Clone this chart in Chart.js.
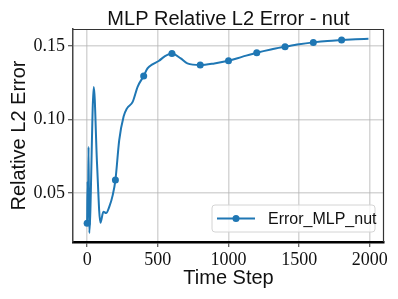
<!DOCTYPE html>
<html>
<head>
<meta charset="utf-8">
<script src="https://cdn.jsdelivr.net/npm/chart.js@4/dist/chart.umd.min.js"></script>
<style>
html,body{margin:0;padding:0;background:#fff;overflow:hidden;}
canvas{display:block;}
</style>
</head>
<body>
<canvas id="c" width="398" height="299"></canvas>
<script>
// ---- data ----
const titleText = 'MLP Relative L2 Error - nut';
const seriesLabel = 'Error_MLP_nut';
const xAxisLabel = 'Time Step';
const yAxisLabel = 'Relative L2 Error';
const steps = [0, 3, 6, 10, 15, 47, 70, 94, 115, 134, 157, 181, 200, 227, 258, 282, 322, 357, 400, 427, 462, 509, 544, 600, 662, 709, 800, 900, 1000, 1100, 1200, 1300, 1400, 1500, 1600, 1700, 1800, 1900, 1990];
const errors = [0.0294, 0.058, 0.036, 0.0815, 0.0228, 0.1222, 0.070, 0.0298, 0.0373, 0.0364, 0.0407, 0.0486, 0.0588, 0.086, 0.102, 0.1076, 0.112, 0.1223, 0.1296, 0.1348, 0.1375, 0.140, 0.1427, 0.145, 0.1416, 0.1382, 0.1371, 0.1382, 0.140, 0.1428, 0.1455, 0.1477, 0.1495, 0.1512, 0.1525, 0.1535, 0.1541, 0.1546, 0.155];
const markerSteps = [0, 200, 400, 600, 800, 1000, 1200, 1400, 1600, 1800];
const xTicks = [0, 500, 1000, 1500, 2000];
const xTickLabels = ['0', '500', '1000', '1500', '2000'];
const yTicks = [0.05, 0.10, 0.15];
const yTickLabels = ['0.05', '0.10', '0.15'];
const xRange = [-100, 2100];
const yRange = [0.0167, 0.1616];

const lineColor = '#1f77b4';
const sansFont = '"Liberation Sans", Arial, sans-serif';
const serifFont = '"Liberation Serif", "Times New Roman", serif';

const points = steps.map((s, i) => ({x: s, y: errors[i]}));

const decorPlugin = {
  id: 'decor',
  afterDraw(chart) {
    const ctx = chart.ctx;
    const a = chart.chartArea;
    ctx.save();
    // top and right spines
    ctx.strokeStyle = '#333';
    ctx.lineWidth = 1.2;
    ctx.beginPath();
    ctx.moveTo(a.left, a.top + 0.5);
    ctx.lineTo(a.right, a.top + 0.5);
    ctx.moveTo(a.right - 0.5, a.top);
    ctx.lineTo(a.right - 0.5, a.bottom);
    ctx.stroke();
    // title
    ctx.fillStyle = '#111';
    ctx.font = '20px ' + sansFont;
    ctx.textAlign = 'center';
    ctx.textBaseline = 'alphabetic';
    ctx.fillText(titleText, (a.left + a.right) / 2, 25);
    // legend
    const bx = a.right - 172, by = a.bottom - 37, bw = 163, bh = 27, r = 3;
    ctx.beginPath();
    ctx.moveTo(bx + r, by);
    ctx.lineTo(bx + bw - r, by);
    ctx.arcTo(bx + bw, by, bx + bw, by + r, r);
    ctx.lineTo(bx + bw, by + bh - r);
    ctx.arcTo(bx + bw, by + bh, bx + bw - r, by + bh, r);
    ctx.lineTo(bx + r, by + bh);
    ctx.arcTo(bx, by + bh, bx, by + bh - r, r);
    ctx.lineTo(bx, by + r);
    ctx.arcTo(bx, by, bx + r, by, r);
    ctx.closePath();
    ctx.fillStyle = 'rgba(255,255,255,0.8)';
    ctx.fill();
    ctx.strokeStyle = '#d4d4d4';
    ctx.lineWidth = 1;
    ctx.stroke();
    const ly = by + bh / 2;
    ctx.strokeStyle = lineColor;
    ctx.lineWidth = 2;
    ctx.beginPath();
    ctx.moveTo(bx + 5, ly);
    ctx.lineTo(bx + 43, ly);
    ctx.stroke();
    ctx.fillStyle = lineColor;
    ctx.beginPath();
    ctx.arc(bx + 24, ly, 3.5, 0, Math.PI * 2);
    ctx.fill();
    ctx.fillStyle = '#111';
    ctx.font = '16px ' + sansFont;
    ctx.textAlign = 'left';
    ctx.textBaseline = 'middle';
    ctx.fillText(seriesLabel, bx + 56, ly + 1);
    ctx.restore();
  }
};

new Chart(document.getElementById('c'), {
  type: 'line',
  data: {
    datasets: [{
      label: seriesLabel,
      data: points,
      borderColor: lineColor,
      backgroundColor: lineColor,
      borderWidth: 2,
      cubicInterpolationMode: 'monotone',
      pointRadius: c => (c.raw && markerSteps.includes(c.raw.x)) ? 3.5 : 0,
      pointHoverRadius: 0,
      pointBorderWidth: 0,
      fill: false
    }]
  },
  options: {
    responsive: false,
    animation: false,
    devicePixelRatio: 1,
    layout: {padding: {left: 0, right: 14, top: 29, bottom: 0}},
    plugins: {legend: {display: false}, title: {display: false}, tooltip: {enabled: false}},
    scales: {
      x: {
        type: 'linear',
        min: xRange[0], max: xRange[1],
        afterFit: s => { s.height = 57; },
        afterBuildTicks: s => { s.ticks = xTicks.map(v => ({value: v})); },
        ticks: {
          callback: (v) => xTickLabels[xTicks.indexOf(v)],
          font: {family: serifFont, size: 18},
          color: '#111',
          padding: 2,
          maxRotation: 0,
          autoSkip: false
        },
        grid: {color: 'rgba(180,180,180,0.55)', lineWidth: 1.5, drawTicks: true, tickLength: 5, tickColor: '#333', tickWidth: 1},
        border: {color: '#000', width: 2.5},
        title: {display: true, text: xAxisLabel, font: {family: sansFont, size: 20}, color: '#111', padding: {top: 0, bottom: 9}}
      },
      y: {
        type: 'linear',
        min: yRange[0], max: yRange[1],
        afterFit: s => { s.width = 73; },
        afterBuildTicks: s => { s.ticks = yTicks.map(v => ({value: v})); },
        ticks: {
          callback: (v) => yTickLabels[yTicks.findIndex(t => Math.abs(t - v) < 1e-9)],
          font: {family: serifFont, size: 18},
          color: '#111',
          padding: 3,
          autoSkip: false
        },
        grid: {color: 'rgba(180,180,180,0.55)', lineWidth: 1.5, drawTicks: true, tickLength: 5, tickColor: '#333', tickWidth: 1},
        border: {color: '#444', width: 1.5},
        title: {display: true, text: yAxisLabel, font: {family: sansFont, size: 20}, color: '#111', padding: {top: 7, bottom: 0}}
      }
    }
  },
  plugins: [decorPlugin]
});
</script>
</body>
</html>
